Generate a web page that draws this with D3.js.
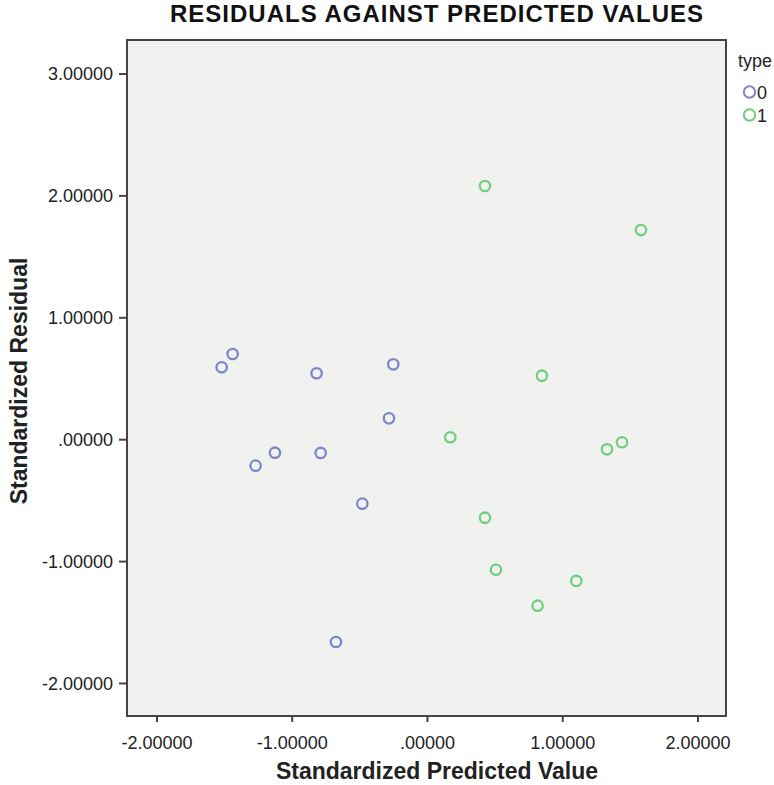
<!DOCTYPE html>
<html>
<head>
<meta charset="utf-8">
<script src="https://cdn.jsdelivr.net/npm/d3@7"></script>
<style>
  body { margin: 0; background: #ffffff; }
  svg { display: block; font-family: Arial, "Liberation Sans", sans-serif; }
</style>
</head>
<body>
<svg id="chart" width="774" height="785"></svg>
<script>
// Standardized predicted values and residuals, split by group type
const type0Predicted = [-1.518, -1.437, -0.816, -0.249, -0.281, -1.124, -1.267, -0.786, -0.478, -0.673];
const type0Residual  = [ 0.590,  0.699,  0.541,  0.614,  0.171, -0.111, -0.217, -0.113, -0.529, -1.664];
const type1Predicted = [0.429, 1.582, 0.850, 0.172, 1.331, 1.442, 0.429, 0.510, 1.104, 0.818];
const type1Residual  = [2.077, 1.716, 0.521, 0.016, -0.083, -0.025, -0.644, -1.071, -1.163, -1.366];

const groups = ["0", "1"];
const groupColors = ["#7c86c9", "#70cf7e"];
const xTicks = [-2, -1, 0, 1, 2];
const yTicks = [3, 2, 1, 0, -1, -2];

const fmt = v => {
  const s = Math.abs(v).toFixed(5);
  const body = s.startsWith("0.") ? s.slice(1) : s;
  return (v < 0 ? "-" : "") + body;
};

const svg = d3.select("#chart");
const plot = { left: 127, right: 726, top: 40, bottom: 716 };

const x = d3.scaleLinear().domain([-2.218, 2.211]).range([plot.left, plot.right]);
const y = d3.scaleLinear().domain([-2.271, 3.275]).range([plot.bottom, plot.top]);

// Plot background
svg.append("rect")
  .attr("x", plot.left).attr("y", plot.top)
  .attr("width", plot.right - plot.left).attr("height", plot.bottom - plot.top)
  .attr("fill", "#f1f2f0");

// Axes
const xAxis = svg.append("g")
  .attr("transform", `translate(0,${plot.bottom})`)
  .call(d3.axisBottom(x).tickValues(xTicks).tickFormat(fmt).tickSize(6).tickSizeOuter(0));
const yAxis = svg.append("g")
  .attr("transform", `translate(${plot.left},0)`)
  .call(d3.axisLeft(y).tickValues(yTicks).tickFormat(fmt).tickSize(8).tickSizeOuter(0));

[xAxis, yAxis].forEach(a => {
  a.select(".domain").remove();
  a.selectAll(".tick line").attr("stroke", "#444").attr("stroke-width", 2);
  a.selectAll(".tick text").attr("fill", "#222").style("font-size", "18px")
    .style("font-family", "Arial, 'Liberation Sans', sans-serif");
});
xAxis.selectAll(".tick text").attr("dy", "0").attr("y", 33);
yAxis.selectAll(".tick text").attr("x", -14).attr("dy", "0.34em");

// Frame
svg.append("rect")
  .attr("x", plot.left).attr("y", plot.top)
  .attr("width", plot.right - plot.left).attr("height", plot.bottom - plot.top)
  .attr("fill", "none").attr("stroke", "#444").attr("stroke-width", 2);

// Points
const series = [
  { key: groups[0], color: groupColors[0], xs: type0Predicted, ys: type0Residual },
  { key: groups[1], color: groupColors[1], xs: type1Predicted, ys: type1Residual }
];
series.forEach(s => {
  svg.append("g").selectAll("circle")
    .data(s.xs.map((v, i) => [v, s.ys[i]]))
    .join("circle")
    .attr("cx", d => x(d[0])).attr("cy", d => y(d[1]))
    .attr("r", 5.2)
    .attr("fill", "none").attr("stroke", s.color).attr("stroke-width", 2.3);
});

// Title
svg.append("text")
  .attr("x", 437).attr("y", 22)
  .attr("text-anchor", "middle")
  .style("font-size", "24px").style("font-weight", "bold").style("letter-spacing", "1px")
  .attr("fill", "#111")
  .text("RESIDUALS AGAINST PREDICTED VALUES");

// Axis titles
svg.append("text")
  .attr("x", 437).attr("y", 779)
  .attr("text-anchor", "middle")
  .style("font-size", "23px").style("font-weight", "bold").attr("fill", "#222")
  .text("Standardized Predicted Value");
svg.append("text")
  .attr("transform", "translate(27,381) rotate(-90)")
  .attr("text-anchor", "middle")
  .style("font-size", "23px").style("font-weight", "bold").attr("fill", "#222")
  .text("Standardized Residual");

// Legend
const legend = svg.append("g");
legend.append("text")
  .attr("x", 738).attr("y", 67)
  .style("font-size", "18px").attr("fill", "#222")
  .text("type");
series.forEach((s, i) => {
  const cy = 92 + i * 23;
  legend.append("circle")
    .attr("cx", 749.5).attr("cy", cy).attr("r", 5.7)
    .attr("fill", "none").attr("stroke", s.color).attr("stroke-width", 2);
  legend.append("text")
    .attr("x", 757).attr("y", cy + 6.5)
    .style("font-size", "18px").attr("fill", "#222")
    .text(s.key);
});
</script>
</body>
</html>
